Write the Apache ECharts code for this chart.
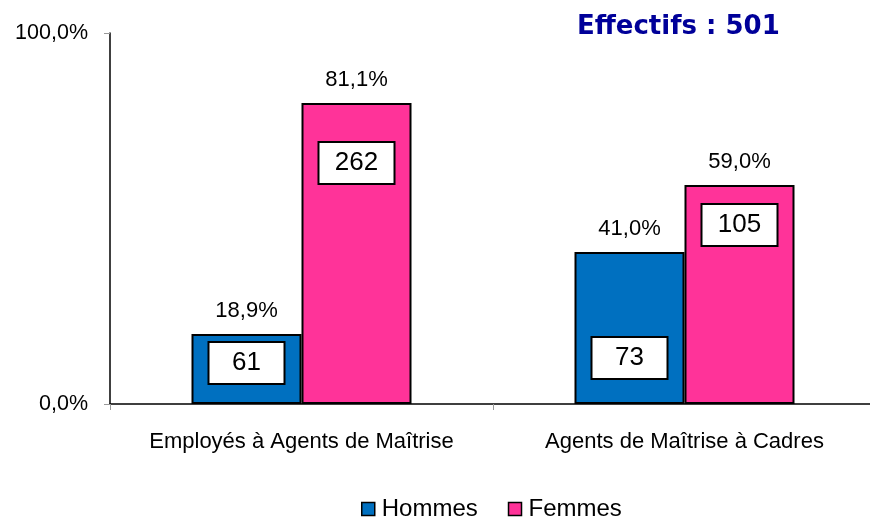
<!DOCTYPE html>
<html>
<head>
<meta charset="utf-8">
<script src="https://cdn.jsdelivr.net/npm/echarts@6/dist/echarts.min.js"></script>
<style>
  html, body { margin: 0; padding: 0; background: #fff; }
  #mychart { width: 870px; height: 517px; }
</style>
</head>
<body>
<div id="mychart"></div>
<script>
// categories and values
const categories = ["Employés à Agents de Maîtrise", "Agents de Maîtrise à Cadres"];
const hommesPct = [18.9, 41.0];
const femmesPct = [81.1, 59.0];
const hommesNb = [61, 73];
const femmesNb = [262, 105];
const yTicks = [0, 100];
const effectif = 501;

const fmtPct = v => v.toFixed(1).replace(".", ",") + "%";
const font = "Liberation Sans, Arial, sans-serif";

// distance of the white count box under the bar top (style only)
const boxDist = { h: [9, 86], f: [40, 20] };

function countSeries(name, pct, nb, dist) {
  return {
    name: name + "_nb",
    type: "bar",
    xAxisIndex: 1,
    barWidth: 110,
    barGap: "0%",
    silent: true,
    itemStyle: { color: "transparent" },
    data: pct.map((v, i) => ({ value: v, label: { distance: dist[i] } })),
    label: {
      show: true,
      position: "insideTop",
      formatter: p => "{b|" + nb[p.dataIndex] + "}",
      rich: {
        b: {
          fontFamily: font,
          fontSize: 26,
          color: "#000",
          backgroundColor: "#fff",
          borderColor: "#000",
          borderWidth: 2,
          width: 74,
          height: 40,
          lineHeight: 40,
          align: "center"
        }
      }
    }
  };
}

function pctSeries(name, pct, color) {
  return {
    name: name,
    type: "bar",
    barWidth: 110,
    barGap: "0%",
    data: pct,
    itemStyle: { color: color, borderColor: "#000", borderWidth: 2 },
    label: {
      show: true,
      position: "top",
      distance: 12,
      fontFamily: font,
      fontSize: 22,
      color: "#000",
      formatter: p => fmtPct(p.value)
    }
  };
}

const option = {
  animation: false,
  title: {
    text: "Effectifs : " + effectif,
    left: 572,
    top: 9,
    textStyle: { fontFamily: "DejaVu Sans, Verdana, sans-serif", fontWeight: "bold", fontSize: 26, color: "#000099" }
  },
  legend: {
    data: ["Hommes", "Femmes"],
    left: 356,
    top: 492,
    icon: "rect",
    itemWidth: 13,
    itemHeight: 13,
    itemGap: 30,
    textStyle: { fontFamily: font, fontSize: 24, color: "#000", padding: [0, 0, 0, 2] },
    itemStyle: { borderColor: "#000", borderWidth: 1.5 }
  },
  grid: { left: 110, width: 766, top: 33, bottom: 113, containLabel: false, outerBoundsMode: "none" },
  xAxis: [
    {
      type: "category",
      data: categories,
      axisLine: { lineStyle: { color: "#000", width: 1.5 } },
      axisTick: { show: true, length: 6, lineStyle: { color: "#999" } },
      axisLabel: { interval: 0, fontFamily: font, fontSize: 22, color: "#000", margin: 27, hideOverlap: false }
    },
    { type: "category", data: categories, show: false }
  ],
  yAxis: {
    type: "value",
    min: yTicks[0],
    max: yTicks[1],
    interval: yTicks[1] - yTicks[0],
    splitLine: { show: false },
    axisLine: { show: true, lineStyle: { color: "#000", width: 1.5 } },
    axisTick: { show: true, length: 6, lineStyle: { color: "#999" } },
    axisLabel: { fontFamily: font, fontSize: 21.5, color: "#000", margin: 22, formatter: v => fmtPct(v) }
  },
  series: [
    pctSeries("Hommes", hommesPct, "#0070C0"),
    pctSeries("Femmes", femmesPct, "#FF3399"),
    countSeries("Hommes", hommesPct, hommesNb, boxDist.h),
    countSeries("Femmes", femmesPct, femmesNb, boxDist.f)
  ]
};

const myChart = echarts.init(document.getElementById("mychart"));
myChart.setOption(option);
window.addEventListener("resize", () => {
  myChart.resize();
});
</script>
</body>
</html>
